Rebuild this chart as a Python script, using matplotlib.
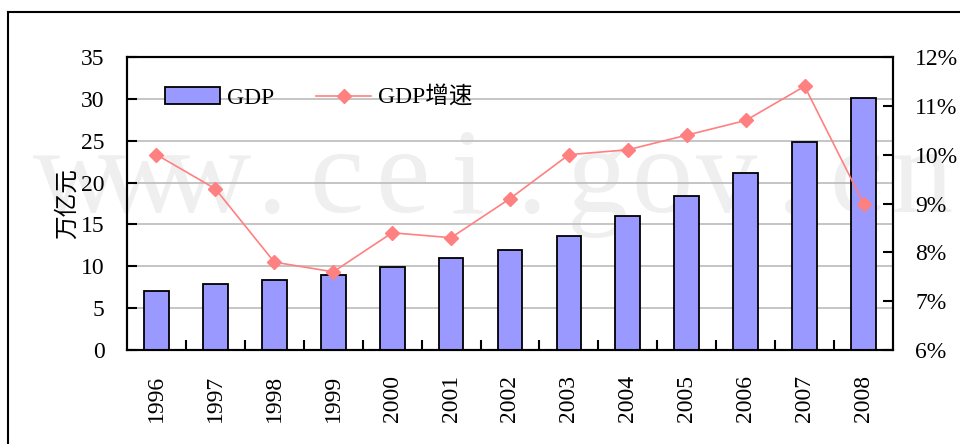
import matplotlib
matplotlib.use('Agg')
import matplotlib.pyplot as plt
import numpy as np
from matplotlib.lines import Line2D
from matplotlib.patches import Patch

plt.rcParams['font.family'] = ['Liberation Serif', 'Noto Sans CJK SC', 'DejaVu Sans']

# Data
years = ['1996', '1997', '1998', '1999', '2000', '2001', '2002',
         '2003', '2004', '2005', '2006', '2007', '2008']
gdp = [7.1, 7.9, 8.4, 9.0, 9.9, 11.0, 12.0, 13.6, 16.0, 18.4, 21.1, 24.8, 30.1]
growth = [10.0, 9.3, 7.8, 7.6, 8.4, 8.3, 9.1, 10.0, 10.1, 10.4, 10.7, 11.4, 9.0]
left_ticks = [0, 5, 10, 15, 20, 25, 30, 35]
right_ticks = [6, 7, 8, 9, 10, 11, 12]

bar_color = '#9999FF'
line_color = '#FF8080'
fs = 17

fig = plt.figure(figsize=(9.6, 4.44), dpi=100)

# outer frame (top and left edges visible)
fig.add_artist(Line2D([8/960, 1], [1-12/444, 1-12/444], color='black', lw=1.5,
                      transform=fig.transFigure))
fig.add_artist(Line2D([8/960, 8/960], [0, 1-12/444], color='black', lw=1.5,
                      transform=fig.transFigure))

# watermark, one letter at a time with even spacing
for i, ch in enumerate('www.cei.gov.cn'):
    fig.text((77 + 65 * i) / 960, 1 - 212/444, ch, fontsize=88, color='#efefef',
             ha='center', va='baseline', zorder=0)

ax = fig.add_axes([127/960, 1-350/444, 766/960, 293/444])
ax.set_zorder(1)
ax.set_facecolor('none')
x = np.arange(len(years))
ax.bar(x, gdp, width=0.42, color=bar_color, edgecolor='black', linewidth=1.3, zorder=3)
ax.set_xlim(-0.5, len(years) - 0.5)
ax.set_ylim(0, 35)
ax.set_yticks(left_ticks)
ax.yaxis.grid(True, color='#c0c0c0', linewidth=1.3, zorder=1)
ax.set_axisbelow(True)
ax.set_xticks(x)
ax.set_xticklabels(years, rotation=90, fontsize=fs)
ax.set_xticks(x[:-1] + 0.5, minor=True)
ax.tick_params(axis='x', which='major', length=0, pad=18)
ax.tick_params(axis='x', which='minor', direction='in', length=7, width=1.5)
ax.tick_params(axis='y', direction='in', length=7, width=1.5, labelsize=fs, pad=16)
ax.set_ylabel('万亿元', family=['Noto Sans CJK SC'], fontsize=fs, labelpad=2)
for s in ax.spines.values():
    s.set_linewidth(1.5)

ax2 = ax.twinx()
ax2.set_zorder(2)
ax2.plot(x, growth, color=line_color, lw=1.2, marker='D', markersize=7,
         markerfacecolor=line_color, markeredgecolor=line_color, zorder=4)
ax2.set_ylim(6, 12)
ax2.set_yticks(right_ticks)
ax2.set_yticklabels([f'{v}%' for v in right_ticks])
ax2.tick_params(axis='y', direction='in', length=7, width=1.5, labelsize=fs, pad=16)
for s in ax2.spines.values():
    s.set_linewidth(1.5)

handles = [Patch(facecolor=bar_color, edgecolor='black', linewidth=1.3),
           Line2D([], [], color=line_color, lw=1.2, marker='D', markersize=7)]
leg = ax2.legend(handles, ['GDP', 'GDP增速'], loc='center left',
                 bbox_to_anchor=(0.05, 0.86), ncol=2, frameon=False,
                 prop={'family': ['Liberation Serif', 'Noto Sans CJK SC'], 'size': fs},
                 handlelength=2.3, handletextpad=0.3, columnspacing=1.8,
                 borderpad=0, borderaxespad=0)

fig.savefig('out.png', dpi=100)
